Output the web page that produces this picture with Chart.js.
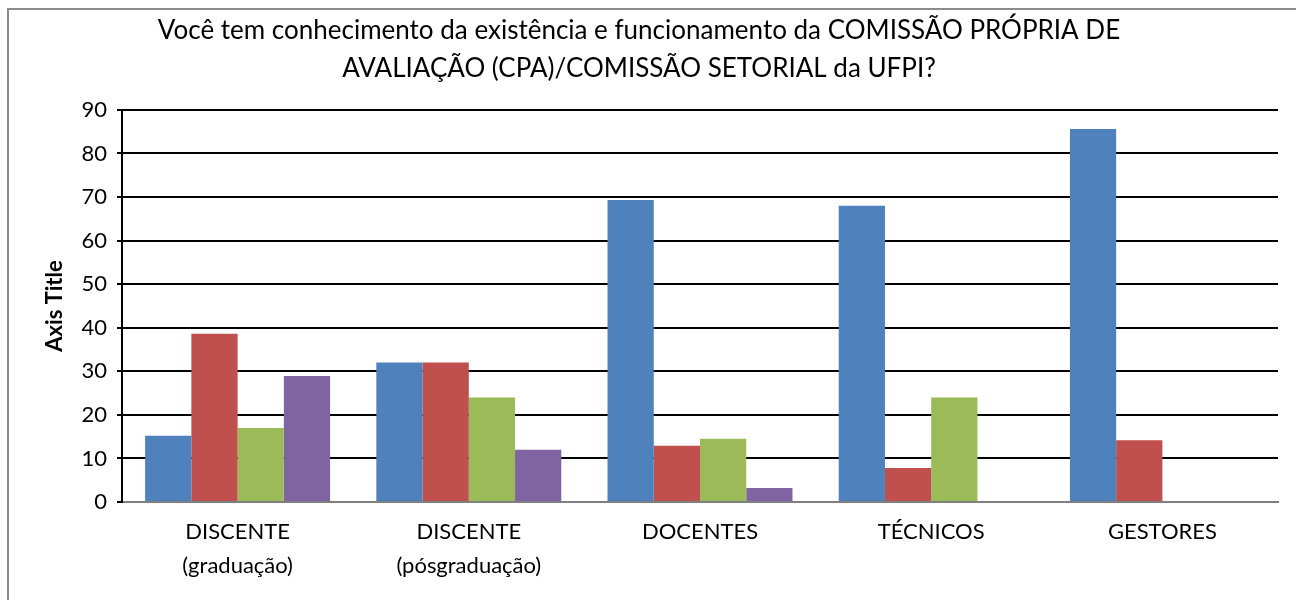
<!DOCTYPE html>
<html>
<head>
<meta charset="utf-8">
<script src="https://cdn.jsdelivr.net/npm/chart.js@4/dist/chart.umd.min.js"></script>
<style>
  body { margin: 0; background: #fff; }
  #frame { position: absolute; left: 7px; top: 8px; width: 1400px; height: 700px; border: 2px solid #8c8c8c; }
  #wrap { position: absolute; left: 0; top: 0; width: 1296px; height: 600px; }
</style>
</head>
<body>
<div id="frame"></div>
<div id="wrap"><canvas id="cpachart" width="1296" height="600"></canvas></div>
<script>
// categorias e valores (%)
var categories = [['DISCENTE', '(graduação)'], ['DISCENTE', '(pósgraduação)'], 'DOCENTES', 'TÉCNICOS', 'GESTORES'];
var serie1 = [15.2, 32, 69.3, 68, 85.6];
var serie2 = [38.6, 32, 12.9, 7.8, 14.2];
var serie3 = [17, 24, 14.5, 24, 0];
var serie4 = [28.9, 12, 3.2, 0, 0];
var yTicks = [0, 10, 20, 30, 40, 50, 60, 70, 80, 90];

var fontFamily = 'Lato, "Open Sans", sans-serif';

var ctx = document.getElementById('cpachart').getContext('2d');
var chart = new Chart(ctx, {
    type: 'bar',
    data: {
        labels: categories,
        datasets: [
            { label: 'Série 1', data: serie1, backgroundColor: '#4F81BD' },
            { label: 'Série 2', data: serie2, backgroundColor: '#C0504D' },
            { label: 'Série 3', data: serie3, backgroundColor: '#9BBB59' },
            { label: 'Série 4', data: serie4, backgroundColor: '#8064A2' }
        ]
    },
    options: {
        responsive: false,
        animation: false,
        datasets: { bar: { categoryPercentage: 0.8, barPercentage: 1.0 } },
        layout: { padding: { left: 0, right: 18, top: 0, bottom: 0 } },
        plugins: {
            legend: { display: false },
            tooltip: { enabled: false },
            title: {
                display: true,
                text: ['Você tem conhecimento da existência e funcionamento da COMISSÃO PRÓPRIA DE',
                       'AVALIAÇÃO (CPA)/COMISSÃO SETORIAL da UFPI?'],
                color: '#000',
                font: { family: fontFamily, size: 26, weight: 'normal', lineHeight: 1.46 },
                padding: { top: 12, bottom: 22 }
            }
        },
        scales: {
            x: {
                grid: { display: false },
                border: { display: true, color: '#7f7f7f', width: 2 },
                ticks: {
                    color: '#000',
                    padding: 5,
                    maxRotation: 0,
                    autoSkip: false,
                    font: { family: fontFamily, size: 22, lineHeight: 1.55 }
                },
                afterFit: function (scale) { scale.height = 98; }
            },
            y: {
                min: 0,
                max: 90,
                afterBuildTicks: function (scale) {
                    scale.ticks = yTicks.map(function (v) { return { value: v }; });
                },
                grid: { color: '#000', lineWidth: 2, tickLength: 5 },
                border: { display: true, color: '#000', width: 2 },
                ticks: {
                    color: '#000',
                    padding: 10,
                    font: { family: fontFamily, size: 22 }
                },
                title: {
                    display: true,
                    text: 'Axis Title',
                    color: '#000',
                    font: { family: fontFamily, size: 22, weight: 'bold', lineHeight: 1.2 },
                    padding: { top: 42, bottom: 0 }
                },
                afterFit: function (scale) { scale.width = 122; }
            }
        }
    }
});
</script>
</body>
</html>
